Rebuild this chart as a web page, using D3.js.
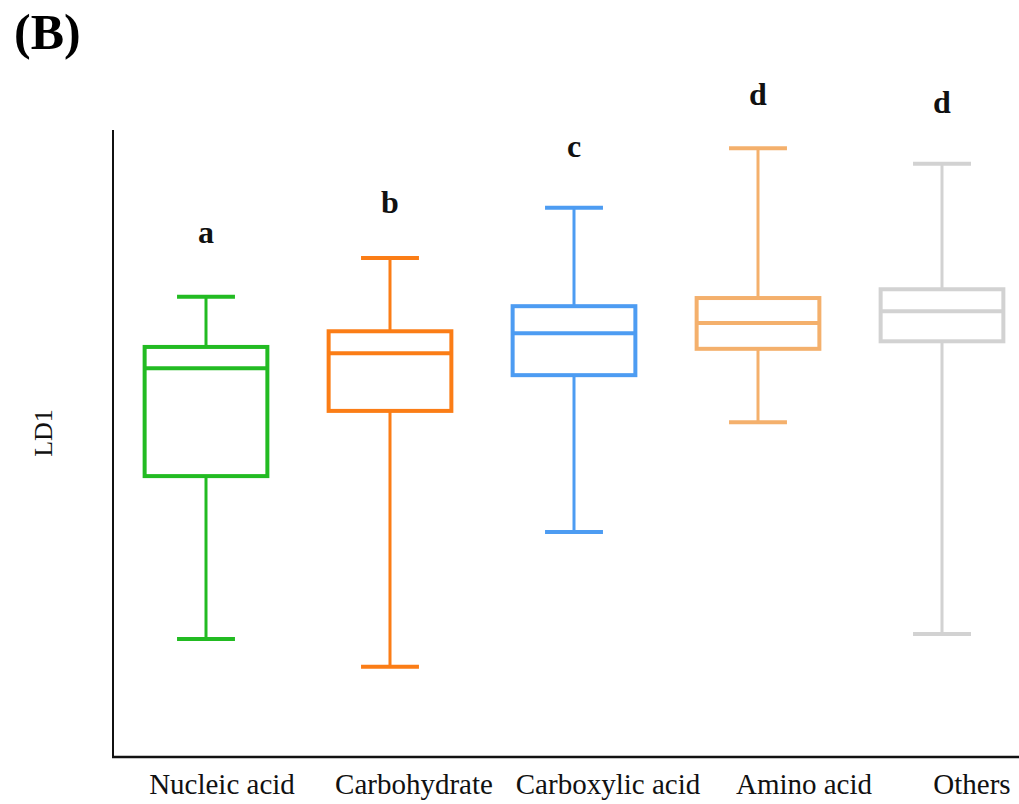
<!DOCTYPE html>
<html>
<head>
<meta charset="utf-8">
<script src="https://cdn.jsdelivr.net/npm/d3@7"></script>
<style>
  html, body { margin: 0; padding: 0; background: #fff; }
  svg { display: block; }
  text { font-family: "Liberation Serif", "Times New Roman", serif; }
</style>
</head>
<body>
<svg id="chart" width="1019" height="804"></svg>
<script>
// ---- data ----
const categories = ["Nucleic acid", "Carbohydrate", "Carboxylic acid", "Amino acid", "Others"];
const whiskerLow = [1.88, 1.44, 3.59, 5.34, 1.96];
const q1Values   = [4.48, 5.52, 6.09, 6.51, 6.63];
const medians    = [6.20, 6.44, 6.76, 6.92, 7.11];
const q3Values   = [6.54, 6.79, 7.19, 7.32, 7.46];
const whiskerHigh= [7.34, 7.96, 8.76, 9.71, 9.46];
const groupLetters = ["a", "b", "c", "d", "d"];
const letterLevels = [8.20, 8.68, 9.57, 10.40, 10.27];
const colors = ["#22bb22", "#fb7d16", "#4d9cf2", "#f4b06c", "#d2d2d2"];

// ---- layout ----
const svg = d3.select("#chart");
const x0 = 113, yTop = 130, yBot = 757;
const x = d3.scaleBand().domain(categories).range([114, 1034]).paddingInner(0.333).paddingOuter(0.1665);
const y = d3.scaleLinear().domain([0, 10]).range([yBot, yTop]);

const data = categories.map((c, i) => ({
  cat: c, lo: whiskerLow[i], q1: q1Values[i], med: medians[i], q3: q3Values[i], hi: whiskerHigh[i],
  letter: groupLetters[i], ly: letterLevels[i], color: colors[i]
}));

// axes lines
svg.append("line").attr("x1", x0).attr("x2", x0).attr("y1", yTop).attr("y2", yBot)
  .attr("stroke", "#111").attr("stroke-width", 2);
svg.append("line").attr("x1", x0 - 1).attr("x2", 1019).attr("y1", yBot).attr("y2", yBot)
  .attr("stroke", "#111").attr("stroke-width", 2.5);

const bw = x.bandwidth();
const capHalf = bw * 0.236;
const g = svg.selectAll("g.box").data(data).enter().append("g").attr("class", "box");

g.each(function(d) {
  const sel = d3.select(this);
  const cx = x(d.cat) + bw / 2;
  // whiskers
  sel.append("line").attr("x1", cx).attr("x2", cx).attr("y1", y(d.hi)).attr("y2", y(d.q3))
    .attr("stroke", d.color).attr("stroke-width", 3);
  sel.append("line").attr("x1", cx).attr("x2", cx).attr("y1", y(d.q1)).attr("y2", y(d.lo))
    .attr("stroke", d.color).attr("stroke-width", 3);
  sel.append("line").attr("x1", cx - capHalf).attr("x2", cx + capHalf).attr("y1", y(d.hi)).attr("y2", y(d.hi))
    .attr("stroke", d.color).attr("stroke-width", 4);
  sel.append("line").attr("x1", cx - capHalf).attr("x2", cx + capHalf).attr("y1", y(d.lo)).attr("y2", y(d.lo))
    .attr("stroke", d.color).attr("stroke-width", 4);
  // box
  sel.append("rect").attr("x", x(d.cat)).attr("width", bw)
    .attr("y", y(d.q3)).attr("height", y(d.q1) - y(d.q3))
    .attr("fill", "none").attr("stroke", d.color).attr("stroke-width", 4);
  sel.append("line").attr("x1", x(d.cat)).attr("x2", x(d.cat) + bw).attr("y1", y(d.med)).attr("y2", y(d.med))
    .attr("stroke", d.color).attr("stroke-width", 4);
  // letter
  sel.append("text").attr("x", cx).attr("y", y(d.ly)).attr("text-anchor", "middle")
    .attr("font-size", 32).attr("font-weight", "bold").attr("fill", "#111").text(d.letter);
});

// category labels (slightly offset right as in the original)
const labelShift = [16, 24, 34, 46, 30];
svg.selectAll("text.cat").data(categories).enter().append("text").attr("class", "cat")
  .attr("x", (c, i) => x(c) + bw / 2 + labelShift[i]).attr("y", 794)
  .attr("text-anchor", "middle").attr("font-size", 29).attr("fill", "#111").text(c => c);

// y-axis title
svg.append("text").attr("transform", "translate(52,433) rotate(-90)")
  .attr("text-anchor", "middle").attr("font-size", 26).attr("fill", "#111").text("LD1");

// panel label
svg.append("text").attr("x", 14).attr("y", 49).attr("font-size", 50).attr("font-weight", "bold")
  .attr("fill", "#000").text("(B)");
</script>
</body>
</html>
